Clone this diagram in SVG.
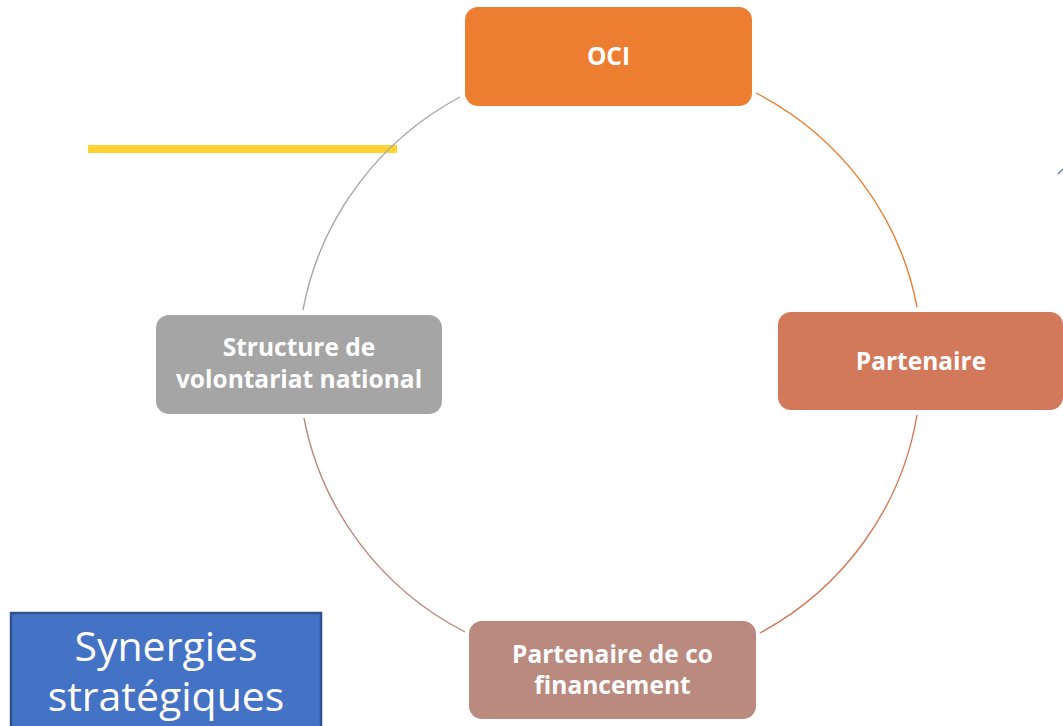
<svg xmlns="http://www.w3.org/2000/svg" width="1063" height="726" viewBox="0 0 1063 726">
<style>
.lbl{font-family:"Open Sans","Liberation Sans",sans-serif;font-weight:bold;font-size:24.5px;fill:#FFFFFF;text-anchor:middle}
.arc{fill:none;stroke-width:1.4}
.title{font-family:"Open Sans","Liberation Sans",sans-serif;font-size:41px;fill:#FFFFFF;text-anchor:middle}
</style>
<rect width="1063" height="726" fill="#FFFFFF"/>
<rect id="yellow-bar" x="88" y="145" width="309" height="8" fill="#FFD431"/>
<g id="connectors">
<path class="arc" stroke="#A5A5A5" d="M460,97 A311,305 0 0 0 303,310"/>
<path class="arc" stroke="#ED7D31" d="M756,93 A311,305 0 0 1 917,307"/>
<path class="arc" stroke="#D3795B" d="M917,415 A311,305 0 0 1 760,633"/>
<path class="arc" stroke="#BA8A7F" d="M465,632 A311,305 0 0 1 304,418"/>
</g>
<g id="node-oci">
<rect x="465" y="7" width="287" height="99" rx="13" fill="#ED7D31"/>
<text class="lbl" x="608.5" y="65">OCI</text>
</g>
<g id="node-partenaire">
<rect x="778" y="312" width="285" height="98" rx="13" fill="#D3795B"/>
<text class="lbl" x="921" y="370">Partenaire</text>
</g>
<g id="node-cofinancement">
<rect x="469" y="621" width="287" height="98" rx="13" fill="#BA8A7F"/>
<text class="lbl" x="612.5" y="663">Partenaire de co</text>
<text class="lbl" x="612.5" y="694">financement</text>
</g>
<g id="node-structure">
<rect x="156" y="315" width="286" height="99" rx="13" fill="#A5A5A5"/>
<text class="lbl" x="299" y="356">Structure de</text>
<text class="lbl" x="299" y="388">volontariat national</text>
</g>
<g id="title-box">
<rect x="11" y="613" width="310" height="125" fill="#4472C4" stroke="#2F528F" stroke-width="2.5"/>
<text class="title" x="166" y="661">Synergies</text>
<text class="title" x="166" y="711">stratégiques</text>
</g>
<line id="corner-mark" x1="1058" y1="174" x2="1063" y2="169" stroke="#4472C4" stroke-width="1.2"/>
</svg>
